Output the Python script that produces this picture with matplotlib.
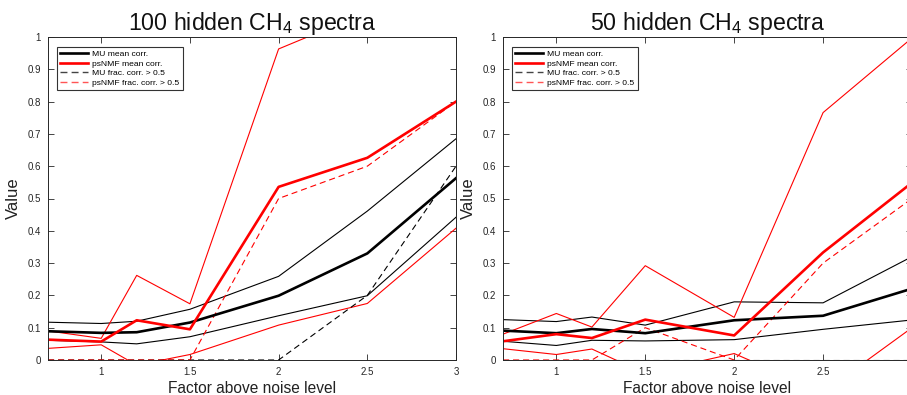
import matplotlib
matplotlib.use("Agg")
import matplotlib.pyplot as plt
from matplotlib.lines import Line2D

plt.rcParams['font.family'] = ['Liberation Sans', 'DejaVu Sans']
plt.rcParams['mathtext.fontset'] = 'custom'
plt.rcParams['mathtext.rm'] = 'Liberation Sans'
plt.rcParams['mathtext.it'] = 'Liberation Sans'

x = [0.7, 1, 1.2, 1.5, 2, 2.5, 3]

# 100 hidden spectra
mu_mean_100 = [0.089, 0.084, 0.086, 0.116, 0.199, 0.330, 0.563]
mu_upper_100 = [0.117, 0.113, 0.120, 0.157, 0.259, 0.461, 0.685]
mu_lower_100 = [0.061, 0.056, 0.050, 0.072, 0.137, 0.199, 0.442]
mu_frac_100 = [0, 0, 0, 0, 0, 0.2, 0.6]
ps_mean_100 = [0.063, 0.057, 0.123, 0.095, 0.536, 0.626, 0.800]
ps_upper_100 = [0.090, 0.067, 0.262, 0.174, 0.963, 1.077, 1.19]
ps_lower_100 = [0.036, 0.047, -0.016, 0.017, 0.108, 0.175, 0.408]
ps_frac_100 = [0, 0, 0, 0, 0.5, 0.6, 0.8]

# 50 hidden spectra
mu_mean_50 = [0.091, 0.083, 0.096, 0.083, 0.123, 0.137, 0.221]
mu_upper_50 = [0.125, 0.119, 0.133, 0.108, 0.180, 0.177, 0.320]
mu_lower_50 = [0.058, 0.045, 0.061, 0.059, 0.063, 0.095, 0.124]
mu_frac_50 = [0, 0, 0, 0, 0, 0, 0]
ps_mean_50 = [0.058, 0.080, 0.068, 0.125, 0.076, 0.333, 0.549]
ps_upper_50 = [0.080, 0.144, 0.102, 0.292, 0.132, 0.766, 0.997]
ps_lower_50 = [0.035, 0.017, 0.034, -0.042, 0.020, -0.100, 0.100]
ps_frac_50 = [0, 0, 0, 0.1, 0, 0.3, 0.5]

titles = ['100 hidden CH$_4$ spectra', '50 hidden CH$_4$ spectra']
legend_labels = ['MU mean corr.', 'psNMF mean corr.', 'MU frac. corr. > 0.5',
                 'psNMF frac. corr. > 0.5']
xticks = [1, 1.5, 2, 2.5, 3]
xticklabels_left = ['1', '1.5', '2', '2.5', '3']
xticklabels_right = ['1', '1.5', '2', '2.5', '']  # "3" falls outside the cropped image
yticks = [0, 0.1, 0.2, 0.3, 0.4, 0.5, 0.6, 0.7, 0.8, 0.9, 1]
yticklabels = ['0', '0.1', '0.2', '0.3', '0.4', '0.5', '0.6', '0.7', '0.8', '0.9', '1']

datasets = [
    (mu_mean_100, mu_upper_100, mu_lower_100, mu_frac_100,
     ps_mean_100, ps_upper_100, ps_lower_100, ps_frac_100),
    (mu_mean_50, mu_upper_50, mu_lower_50, mu_frac_50,
     ps_mean_50, ps_upper_50, ps_lower_50, ps_frac_50),
]

W, H = 907, 395
fig = plt.figure(figsize=(W / 100, H / 100), dpi=100)
fig.patch.set_facecolor('white')

axes_px = [(48, 456), (503, 912)]
top_px, bot_px = 37, 360
RED = '#ff0000'
AXC = '#262626'
dash = (0, (5.5, 3.5))
thick = 1.9
thin = 0.8

for (l, r), title, d, xtl in zip(axes_px, titles, datasets,
                                 [xticklabels_left, xticklabels_right]):
    ax = fig.add_axes([l / W, (H - bot_px) / H, (r - l) / W, (bot_px - top_px) / H])
    mu_m, mu_u, mu_l, mu_f, ps_m, ps_u, ps_l, ps_f = d
    ax.plot(x, mu_u, color='k', lw=thin)
    ax.plot(x, mu_l, color='k', lw=thin)
    ax.plot(x, ps_u, color=RED, lw=thin)
    ax.plot(x, ps_l, color=RED, lw=thin)
    ax.plot(x, mu_f, color='k', lw=thin, linestyle=dash)
    ax.plot(x, ps_f, color=RED, lw=thin, linestyle=dash)
    ax.plot(x, mu_m, color='k', lw=thick)
    ax.plot(x, ps_m, color=RED, lw=thick)
    ax.set_xlim(0.7, 3)
    ax.set_ylim(0, 1)
    ax.set_xticks(xticks)
    ax.set_xticklabels(xtl)
    ax.set_yticks(yticks)
    ax.set_yticklabels(yticklabels)
    ax.tick_params(direction='in', length=4, width=0.6, colors=AXC, labelsize=7,
                   top=True, right=True, pad=5)
    for s in ax.spines.values():
        s.set_color(AXC)
        s.set_linewidth(0.7)
    ax.set_title(title, fontsize=16.7, pad=5, color='#111111')
    ax.set_xlabel('Factor above noise level', fontsize=11.2, labelpad=3, color='#222222')
    ax.set_ylabel('Value', fontsize=12, labelpad=5, color='#222222')
    handles = [Line2D([], [], color='k', lw=thick),
               Line2D([], [], color=RED, lw=thick),
               Line2D([], [], color='#444444', lw=1.0, linestyle=(0, (5, 3))),
               Line2D([], [], color='#ff5555', lw=1.0, linestyle=(0, (5, 3)))]
    leg = ax.legend(handles, legend_labels, loc='upper left', fontsize=6.1,
                    frameon=True, fancybox=False, edgecolor='k',
                    borderpad=0.4, labelspacing=0.2, handlelength=3.3,
                    handletextpad=0.45, bbox_to_anchor=(0.022, 0.97),
                    borderaxespad=0)
    leg.get_frame().set_linewidth(0.8)

fig.savefig('out.png', dpi=100, facecolor='white')
